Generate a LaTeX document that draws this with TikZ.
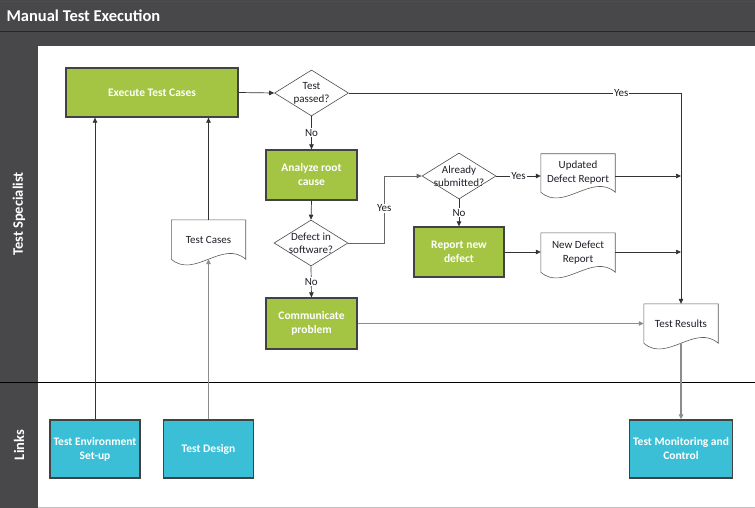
\documentclass[tikz,border=0pt]{standalone}
\usepackage{fontspec}
\setmainfont{Carlito}
\usetikzlibrary{shapes.geometric,arrows.meta,calc}

\definecolor{hdr}{HTML}{48484B}
\definecolor{grn}{HTML}{A4C444}
\definecolor{cyn}{HTML}{3ABFD6}
\definecolor{boxedge}{HTML}{404244}
\definecolor{txt}{HTML}{1E1E28}

% document symbol outline: straight top and sides, wavy bottom edge
\newcommand\wavydoc[1]{%
  \draw[docline] (#1.south west) -- (#1.north west) -- (#1.north east) -- (#1.south east)
    .. controls ($(#1.south east)+(-23pt,20pt)$) and ($(#1.south west)+(23pt,-20pt)$) .. (#1.south west) -- cycle;}

\begin{document}
\begin{tikzpicture}[x=1pt,y=-1pt,
  proc/.style={rectangle, draw=boxedge, line width=1.3pt, fill=grn, text=white,
    font=\bfseries\fontsize{11.5}{14}\selectfont, align=center, inner sep=0pt},
  link/.style={proc, fill=cyn},
  dec/.style={diamond, draw=black!70, line width=0.6pt, fill=white, inner sep=0pt,
    minimum width=74pt, minimum height=46pt},
  dectext/.style={text=txt, font=\fontsize{11}{13}\selectfont, align=center, inner sep=0pt},
  docnode/.style={rectangle, inner sep=0pt, minimum width=74pt, minimum height=39pt,
    text=txt, font=\fontsize{11}{14}\selectfont, align=center},
  docline/.style={draw=black!65, line width=0.6pt},
  conn/.style={draw=black!80, line width=0.7pt, -{Triangle[length=5pt,width=4.5pt]}},
  connlight/.style={conn, draw=black!45, line width=1.2pt},
  lbl/.style={fill=white, text=txt, inner sep=1pt, font=\fontsize{11}{13}\selectfont},
  lane/.style={text=white, font=\bfseries\fontsize{14.5}{16}\selectfont, rotate=90}
]
\useasboundingbox (0,0) rectangle (755,508);

% header bands and lane column
\fill[hdr] (0,0) rectangle (755,46);
\draw[black!85, line width=0.8pt] (0,31) -- (755,31);
\draw[black!70, line width=0.8pt] (0,1) -- (755,1);
\fill[hdr] (0,46) rectangle (38,508);
\draw[black!25, line width=1pt] (38,507.5) -- (755,507.5);
\draw[black, line width=0.8pt] (0,382) -- (755,382);

\node[anchor=west, text=white, font=\bfseries\fontsize{16.5}{18}\selectfont] (title) at (3,16) {Manual Test Execution};
\node[lane] (laneA) at (19,214) {Test Specialist};
\node[lane] (laneB) at (19,445) {Links};

% process steps
\node[proc, minimum width=172pt, minimum height=49pt] (exec) at (152,92.5) {Execute Test Cases};
\node[proc, minimum width=91pt, minimum height=50pt] (ana) at (311.5,175) {Analyze root\\cause};
\node[proc, minimum width=91pt, minimum height=51pt] (comm) at (311.5,323.5) {Communicate\\problem};
\node[proc, minimum width=90pt, minimum height=50pt] (rep) at (459,252) {Report new\\defect};

% decisions
\node[dec, label={[dectext]center:Test\\passed?}] (d1) at (311.5,93) {};
\node[dec, label={[dectext]center:Defect in\\software?}] (d2) at (311,243) {};
\node[dec, label={[dectext]center:Already\\submitted?}] (d3) at (459,176) {};

% documents
\node[docnode] (tc) at (208.5,239.5) {Test Cases};
\wavydoc{tc}
\node[docnode, minimum height=38pt] (upd) at (578,173) {Updated\\Defect Report};
\wavydoc{upd}
\node[docnode] (new) at (578,252.5) {New Defect\\Report};
\wavydoc{new}
\node[docnode] (tr) at (681,323.5) {Test Results};
\wavydoc{tr}

% linked processes
\node[link, minimum width=90pt, minimum height=58pt] (env) at (95,449) {Test Environment\\Set-up};
\node[link, minimum width=90pt, minimum height=58pt] (des) at (208.5,449) {Test Design};
\node[link, minimum width=103pt, minimum height=58pt] (mon) at (681,449) {Test Monitoring and\\Control};

% connectors
\draw[conn] (exec.east) -- (d1.west);
\draw[conn] (d1.east) -| (tr.north) node[lbl, pos=0.41] {Yes};
\draw[conn] (d1.south) -- (ana.north) node[lbl, midway] {No};
\draw[conn] (ana.south) -- (d2.north);
\draw[conn] (d2.south) -- (comm.north) node[lbl, midway] {No};
\draw[conn, draw=black!60] (d2.east) -- ++(36,0) |- (d3.west) node[lbl, pos=0.26] {Yes};
\draw[conn] (d3.south) -- (rep.north) node[lbl, midway] {No};
\draw[conn] (d3.east) -- (d3.east -| upd.west) node[lbl, midway] {Yes};
\draw[conn] (upd.east |- d3.east) -- (tr.north |- d3.east);
\draw[conn] (rep.east) -- (rep.east -| new.west);
\draw[conn] (new.east |- rep.east) -- (tr.north |- rep.east);
\draw[connlight] (comm.east) -- (comm.east -| tr.west);
\draw[connlight, line width=1.8pt] (tr.south) -- (mon.north);
\draw[conn] (env.north) -- (env.north |- exec.south);
\draw[connlight, line width=0.9pt] (des.north) -- (tc.south);
\draw[conn] (tc.north) -- (tc.north |- exec.south);
\end{tikzpicture}
\end{document}
